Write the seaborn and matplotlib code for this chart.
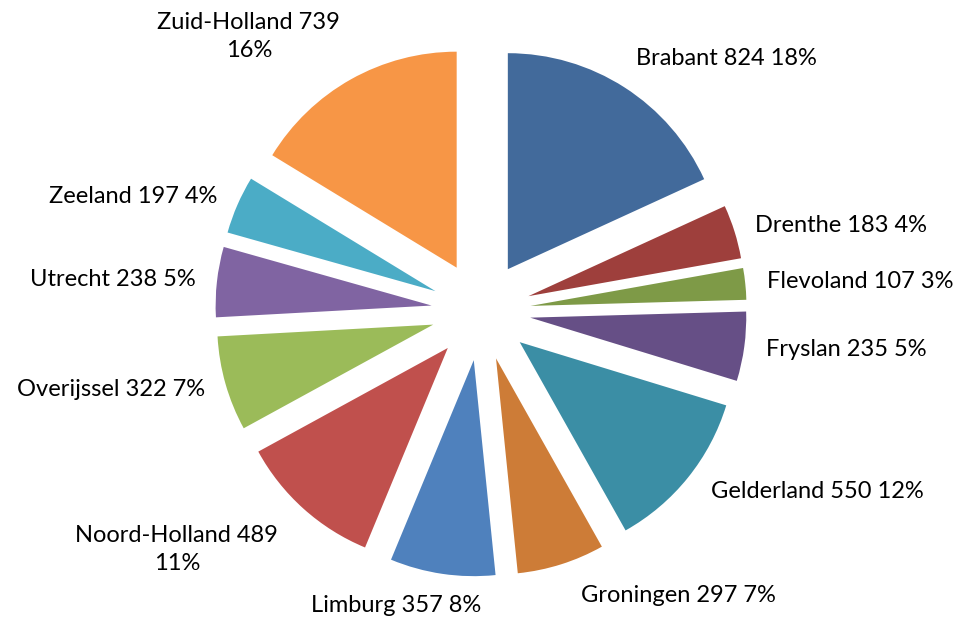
import numpy as np
import matplotlib
matplotlib.use('Agg')
import matplotlib.pyplot as plt
import seaborn as sns

provinces = ['Brabant', 'Drenthe', 'Flevoland', 'Fryslan', 'Gelderland', 'Groningen',
             'Limburg', 'Noord-Holland', 'Overijssel', 'Utrecht', 'Zeeland', 'Zuid-Holland']
counts = [824, 183, 107, 235, 550, 297, 357, 489, 322, 238, 197, 739]
# percentages as printed on the chart
percents = [18, 4, 3, 5, 12, 7, 8, 11, 7, 5, 4, 16]
colors = ['#426A9B', '#9E3F3C', '#7E9A47', '#664F86', '#3B8EA5', '#CD7C37',
          '#4F81BD', '#C0504D', '#9BBB59', '#8064A2', '#4BACC6', '#F79646']
# labels that Excel wrapped onto two lines
wrapped = ['Noord-Holland', 'Zuid-Holland']

sns.set_theme(style='white')
plt.rcParams['font.family'] = ['Lato', 'DejaVu Sans']

W, H = 958, 621
cx, cy, R = 481, 311, 216  # pie centre / radius in pixels
explode = 0.23

fig = plt.figure(figsize=(W / 100, H / 100), dpi=100)
ax = fig.add_axes([0, 0, 1, 1])

wedges, _ = ax.pie(counts, colors=colors, startangle=90, counterclock=False,
                   explode=[explode] * len(counts), radius=1,
                   wedgeprops={'linewidth': 0})

ax.set_xlim(-cx / R, (W - cx) / R)
ax.set_ylim(-(H - cy) / R, cy / R)
ax.set_aspect('auto')
ax.axis('off')

nudge_x = {'Limburg': -0.2, 'Groningen': 0.06, 'Noord-Holland': -0.05,
           'Gelderland': 0.03}
for w, name, n, pct in zip(wedges, provinces, counts, percents):
    theta = np.deg2rad((w.theta1 + w.theta2) / 2)
    c, s = np.cos(theta), np.sin(theta)
    r = 1 + explode + 0.1
    x, y = r * c + nudge_x.get(name, 0), r * s
    sep = '\n' if name in wrapped else ' '
    txt = f'{name} {n}{sep}{pct}%'
    ha = 'left' if c > 0.25 else ('right' if c < -0.25 else 'center')
    va = 'bottom' if s > 0.8 else ('top' if s < -0.7 else 'center')
    ax.text(x, y, txt, ha=ha, va=va, fontsize=17, color='#000000',
            multialignment='center', linespacing=1.4)

fig.savefig('out.png', dpi=100)
